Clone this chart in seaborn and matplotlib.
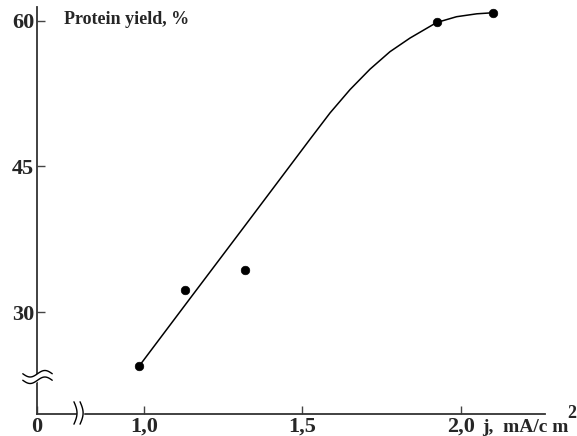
import numpy as np
import pandas as pd
import matplotlib
matplotlib.use('Agg')
import matplotlib.pyplot as plt
import seaborn as sns

# measured points (current density j, mA/cm2 vs protein yield, %)
current_density = [0.985, 1.13, 1.32, 1.925, 2.10]
protein_yield = [24.4, 32.3, 34.3, 59.9, 60.8]

# hand-drawn trend curve
curve_j = [0.984, 1.15, 1.32, 1.471, 1.524, 1.587, 1.650, 1.713, 1.776,
           1.839, 1.923, 1.986, 2.050, 2.097]
curve_yield = [24.4, 31.6, 38.95, 45.5, 47.8, 50.5, 52.9, 55.0, 56.8,
               58.2, 59.8, 60.4, 60.7, 60.8]

x_ticks = [0.6625, 1.0, 1.5, 2.0]
x_ticklabels = ['0', '1,0', '1,5', '2,0']
y_ticks = [30, 45, 60]
y_ticklabels = ['30', '45', '60']

sns.set_style('white')
plt.rcParams['font.family'] = ['Liberation Serif', 'DejaVu Serif']
plt.rcParams['font.weight'] = 'bold'

fig = plt.figure(figsize=(5.77, 4.36), dpi=100)
ax = fig.add_axes([37 / 577, 22 / 436, 508 / 577, 407 / 436])

pts = pd.DataFrame({'j': current_density, 'yield': protein_yield})
curve = pd.DataFrame({'j': curve_j, 'yield': curve_yield})

sns.lineplot(data=curve, x='j', y='yield', color='black', linewidth=1.1,
             sort=False, ax=ax)
sns.scatterplot(data=pts, x='j', y='yield', color='black', s=38,
                edgecolor='black', zorder=3, ax=ax)

ax.set_xlim(0.6625, 2.265)
ax.set_ylim(19.5, 61.4)
ax.set_xticks(x_ticks)
ax.set_xticklabels(x_ticklabels)
ax.set_yticks(y_ticks)
ax.set_yticklabels(y_ticklabels)
ax.xaxis.get_major_ticks()[0].tick1line.set_visible(False)
ax.tick_params(direction='in', length=6, width=1.0, color='#444444',
               labelsize=16, pad=2, bottom=True, left=True)
for lab in ax.get_xticklabels() + ax.get_yticklabels():
    lab.set_fontweight('bold')
ax.set_xlabel('')
ax.set_ylabel('')

sns.despine(ax=ax)
for side in ['left', 'bottom']:
    ax.spines[side].set_linewidth(1.3)
    ax.spines[side].set_color('#333333')

ax.text(0.053, 0.97, 'Protein yield, %', transform=ax.transAxes,
        fontsize=13, fontweight='bold', va='center', ha='left')
ax.text(0.876, -0.044, 'j,  mA/c m', transform=ax.transAxes,
        fontsize=14, fontweight='bold', va='baseline', ha='left',
        clip_on=False)
ax.text(1.043, -0.01, '2', transform=ax.transAxes,
        fontsize=13, fontweight='bold', va='baseline', ha='left',
        clip_on=False)

# axis break marks
t = np.linspace(-1, 1, 40)
wave = 0.008 * np.sin(np.pi * t)
bx = -0.028 + 0.058 * (t + 1) / 2
by = (414 - 377) / 407
ax.fill_between(bx, by - 0.008 + wave, by + 0.008 + wave, color='white',
                transform=ax.transAxes, clip_on=False, zorder=5)
for off in (-0.008, 0.008):
    ax.plot(bx, by + off + wave, color='black', lw=1.0,
            transform=ax.transAxes, clip_on=False, zorder=6)

cy = -0.025 + 0.055 * (t + 1) / 2
cx0 = (77 - 37) / 508
curl = 0.006 * np.sin(np.pi * (t + 1) / 2)
ax.fill_betweenx(cy, cx0 - 0.006 + curl, cx0 + 0.006 + curl, color='white',
                 transform=ax.transAxes, clip_on=False, zorder=5)
for off in (-0.006, 0.006):
    ax.plot(cx0 + off + curl, cy, color='black', lw=1.0,
            transform=ax.transAxes, clip_on=False, zorder=6)

fig.savefig('out.png', dpi=100)
